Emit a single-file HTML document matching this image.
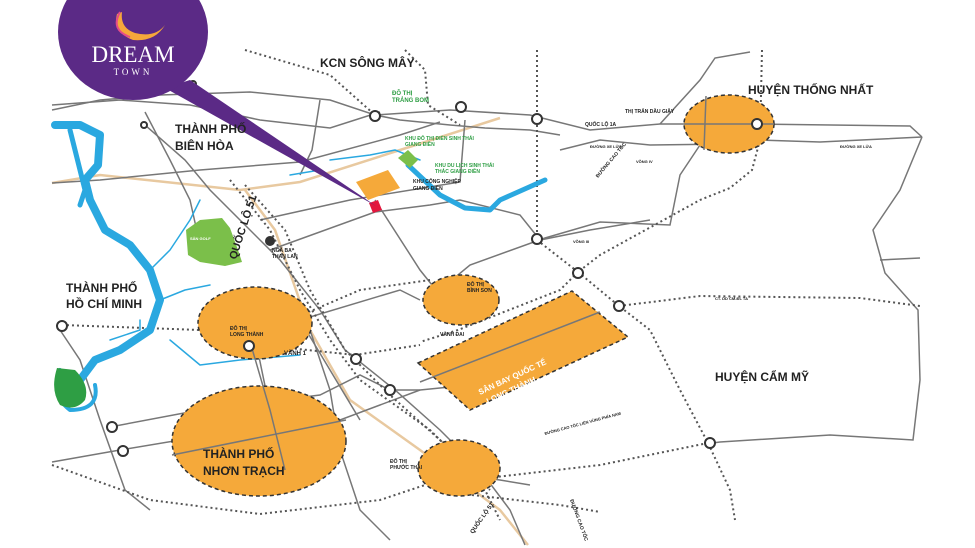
<!DOCTYPE html>
<html><head><meta charset="utf-8"><style>
html,body{margin:0;padding:0;background:#fff;width:975px;height:548px;overflow:hidden}
svg{display:block}
text{font-family:"Liberation Sans",sans-serif;font-weight:bold}
</style></head><body>
<svg width="975" height="548" viewBox="0 0 975 548" xmlns="http://www.w3.org/2000/svg">
<rect width="975" height="548" fill="#fff"/>
<g fill="none" stroke="#e8c9a0" stroke-width="2.5">
<path d="M52 183 L100 175 L240 190 L300 182 L400 150 L500 118"/>
<path d="M245 190 L275 230 L310 330 L350 400 L420 450 L500 510 L528 545"/>
</g>
<g fill="none" stroke="#777" stroke-width="1.5">
<path d="M52 110 L100 100 L160 95 L250 92 L330 100 L375 115 L450 110 L530 115 L590 130 L660 124 L757 124 L910 126 L922 137"/>
<path d="M52 183 L100 180 L200 170 L300 162 L400 135 L440 122"/>
<path d="M52 105 L120 100 L190 105 L260 120 L330 128 L380 112"/>
<path d="M145 112 L170 160 L190 200 L200 245"/>
<path d="M145 125 L185 160 L210 190 L240 220 L280 260 L320 310 L345 350 L395 390 L440 430 L480 470 L510 510 L525 545"/>
<path d="M320 100 L312 150 L300 175"/>
<path d="M260 220 L350 200 L460 182 L465 120"/>
<path d="M270 250 L375 212 L430 205 L460 200 L520 215 L540 240 L590 230 L650 220"/>
<path d="M375 200 L420 270 L460 320"/>
<path d="M660 124 L700 80 L715 58 L750 52"/>
<path d="M700 145 L680 175 L670 225 L600 222 L545 238 L470 265 L430 298"/>
<path d="M922 137 L900 190 L873 230 L885 273 L918 310 L920 380 L913 440 L830 435 L720 442 L705 444"/>
<path d="M880 260 L920 258"/>
<path d="M300 320 L330 370 L360 420"/>
<path d="M60 330 L80 360 L100 420 L125 490 L150 510"/>
<path d="M110 427 L200 410 L320 395 L360 375 L390 390 L420 390 L520 380"/>
<path d="M52 462 L120 450 L240 430 L340 420 L380 405 L420 390"/>
<path d="M300 300 L330 390 L340 450 L360 510 L390 540"/>
<path d="M251 318 L270 410 L285 460"/>
<path d="M420 470 L500 480 L530 485"/>
<path d="M300 320 L400 290 L420 300"/>
<path d="M560 150 L600 140 L650 145 L730 144 L760 140 L820 142 L922 137"/>
<path d="M375 115 L400 120 L450 125 L485 128 L530 130 L560 135"/>
</g>
<g fill="none" stroke="#555" stroke-width="2" stroke-dasharray="2,3">
<path d="M245 50 L330 75 L375 115"/>
<path d="M405 50 L425 70 L428 105 L460 125"/>
<path d="M537 50 L537 240 L578 272"/>
<path d="M762 50 L760 140 L752 170 L730 188 L700 200 L600 255 L578 272"/>
<path d="M578 272 L560 290 L458 330 L420 342"/>
<path d="M62 325 L200 330 L260 345 L355 355 L420 345"/>
<path d="M290 320 L360 290 L430 280"/>
<path d="M578 272 L619 306 L650 330 L680 390 L708 443 L730 490 L735 520"/>
<path d="M619 306 L700 296 L860 298 L920 306"/>
<path d="M708 443 L600 465 L470 480 L420 478"/>
<path d="M52 465 L150 500 L260 514 L380 500 L440 480"/>
<path d="M472 495 L560 505 L600 512"/>
<path d="M230 180 L270 230 L300 290 L330 340 L360 380 L430 430 L480 480 L500 520"/>
<path d="M245 185 L285 230 L310 290 L345 350 L390 395 L440 440 L490 490"/>
</g>
<g fill="none" stroke="#2aa8e0" stroke-linecap="round" stroke-linejoin="round">
<path d="M55 125 L80 125 L100 135 L98 165 L85 180 L90 200 L105 230 L130 245 L150 270 L160 300 L150 330 L120 350 L95 360 L80 380 L75 395" stroke-width="8"/>
<path d="M70 130 L85 190 L80 205" stroke-width="5"/>
<path d="M60 370 Q50 395 70 410 Q100 410 95 385" stroke-width="4"/>
<path d="M160 300 L185 290 L210 285" stroke-width="1.5"/>
<path d="M150 270 L170 250 L190 220 L200 200" stroke-width="1.5"/>
<path d="M170 340 L200 365 L240 360 L300 355" stroke-width="1.5"/>
<path d="M110 340 L140 330 L140 320" stroke-width="1.5"/>
<path d="M330 160 L370 155 L395 150 L420 160" stroke-width="1.5"/>
<path d="M320 170 L290 175" stroke-width="1.5"/>
<path d="M408 165 L440 195 L465 208 L490 210 L500 200 L545 180" stroke-width="5"/>
</g>
<path d="M57 368 Q50 390 60 405 Q75 412 85 400 Q90 385 75 370 Z" fill="#2e9e44"/>
<path d="M186 230 L200 220 L222 218 L230 228 L238 250 L242 262 L225 266 L200 262 L188 255 Z" fill="#7bbf4a"/>
<path d="M398 158 L408 150 L418 160 L410 168 Z" fill="#7bbf4a"/>
<g fill="#f5a93a" stroke="#333" stroke-width="1.5" stroke-dasharray="4,3">
<ellipse cx="729" cy="124" rx="45" ry="29"/>
<ellipse cx="461" cy="300" rx="38" ry="25"/>
<ellipse cx="255" cy="323" rx="57" ry="36"/>
<ellipse cx="259" cy="441" rx="87" ry="55"/>
<ellipse cx="459" cy="468" rx="41" ry="28"/>
<polygon points="418,363 572,291 628,337 470,410"/>
</g>
<polygon points="356,182 388,170 400,188 368,200" fill="#f5a93a"/>
<g fill="none" stroke="#777" stroke-width="1.5">
<path d="M420 382 L600 312"/>
<path d="M684 124 L774 124"/>
<path d="M706 96 L704 150"/>
<path d="M251 345 L270 410 L285 470"/>
<path d="M172 455 L346 420"/>
</g>
<g fill="#fff" stroke="#333" stroke-width="2">
<circle cx="375" cy="116" r="5"/><circle cx="461" cy="107" r="5"/><circle cx="537" cy="119" r="5"/>
<circle cx="757" cy="124" r="5"/><circle cx="537" cy="239" r="5"/><circle cx="578" cy="273" r="5"/>
<circle cx="619" cy="306" r="5"/><circle cx="710" cy="443" r="5"/><circle cx="62" cy="326" r="5"/>
<circle cx="249" cy="346" r="5"/><circle cx="356" cy="359" r="5"/><circle cx="390" cy="390" r="5"/>
<circle cx="112" cy="427" r="5"/><circle cx="123" cy="451" r="5"/><circle cx="193" cy="84" r="3"/>
<circle cx="144" cy="125" r="3"/><circle cx="270" cy="241" r="4" fill="#333"/>
</g>
<polygon points="369,203 378,200 382,210 373,213" fill="#e3173e"/>
<polygon points="165,88 190,80 376,206" fill="#5b2a86"/>
<ellipse cx="133" cy="32" rx="75" ry="68" fill="#5b2a86"/>
<path d="M117 14 Q112 32 133 40 Q155 42 165 25 Q155 38 135 33 Q120 28 122 12 Z" fill="#f6a83a"/>
<path d="M120 12 Q110 30 130 37" fill="none" stroke="#e44b8a" stroke-width="2"/>
<text x="133" y="62" font-size="23" fill="#fff" text-anchor="middle" style="font-family:'Liberation Serif',serif;font-weight:normal">DREAM</text>
<text x="133" y="75" font-size="9" fill="#fff" text-anchor="middle" letter-spacing="3" style="font-family:'Liberation Serif',serif;font-weight:normal">TOWN</text>
<g fill="#222">
<text x="320" y="67" font-size="12">KCN SÔNG MÂY</text>
<text x="748" y="94" font-size="12">HUYỆN THỐNG NHẤT</text>
<text x="175" y="133" font-size="12">THÀNH PHỐ</text>
<text x="175" y="150" font-size="12">BIÊN HÒA</text>
<text x="66" y="292" font-size="12">THÀNH PHỐ</text>
<text x="66" y="308" font-size="12">HỒ CHÍ MINH</text>
<text x="715" y="381" font-size="12">HUYỆN CẨM MỸ</text>
<text x="203" y="458" font-size="12">THÀNH PHỐ</text>
<text x="203" y="475" font-size="12">NHƠN TRẠCH</text>
<text transform="translate(236,260) rotate(-72)" font-size="11">QUỐC LỘ 51</text>
<text x="440" y="336" font-size="5">VÀNH ĐAI</text>
<text x="230" y="330" font-size="5">ĐÔ THỊ</text>
<text x="230" y="336" font-size="5">LONG THÀNH</text>
<text x="467" y="286" font-size="5">ĐÔ THỊ</text>
<text x="467" y="292" font-size="5">BÌNH SƠN</text>
<text x="390" y="463" font-size="5">ĐÔ THỊ</text>
<text x="390" y="469" font-size="5">PHƯỚC THÁI</text>
<text x="625" y="113" font-size="5">THỊ TRẤN DẦU GIÂY</text>
<text x="585" y="126" font-size="5">QUỐC LỘ 1A</text>
<text x="590" y="148" font-size="4">ĐƯỜNG XE LỬA</text>
<text x="840" y="148" font-size="4">ĐƯỜNG XE LỬA</text>
<text x="636" y="163" font-size="4">VÕNG IV</text>
<text x="573" y="243" font-size="4">VÕNG III</text>
<text x="715" y="300" font-size="4">CT. DD CM-ĐL TA</text>
<text x="284" y="355" font-size="6">VÀNH 1</text>
<text x="272" y="252" font-size="5">NGÃ BA</text>
<text x="272" y="258" font-size="5">THAN LAN</text>
<text x="413" y="183" font-size="5">KHU CÔNG NGHIỆP</text>
<text x="413" y="190" font-size="5">GIANG ĐIỀN</text>
<text transform="translate(473,534) rotate(-55)" font-size="6">QUỐC LỘ 51</text>
<text transform="translate(598,178) rotate(-50)" font-size="5">ĐƯỜNG CAO TỐC</text>
<text transform="translate(545,435) rotate(-15)" font-size="4">ĐƯỜNG CAO TỐC LIÊN VÙNG PHÍA NAM</text>
<text transform="translate(570,500) rotate(70)" font-size="5">ĐƯỜNG CAO TỐC</text>
</g>
<g fill="#2e9e44">
<text x="392" y="95" font-size="6">ĐÔ THỊ</text>
<text x="392" y="102" font-size="6">TRẢNG BOM</text>
<text x="405" y="140" font-size="5">KHU ĐÔ THỊ ĐIỂN SINH THÁI</text>
<text x="405" y="146" font-size="5">GIANG ĐIỀN</text>
<text x="435" y="167" font-size="5">KHU DU LỊCH SINH THÁI</text>
<text x="435" y="173" font-size="5">THÁC GIANG ĐIỀN</text>
<text x="190" y="240" font-size="4" fill="#fff">SÂN GOLF</text>
</g>
<text transform="translate(480,395) rotate(-25)" font-size="8" fill="#fff">SÂN BAY QUỐC TẾ</text>
<text transform="translate(488,404) rotate(-25)" font-size="8" fill="#fff">LONG THÀNH</text>
</svg>
</body></html>
